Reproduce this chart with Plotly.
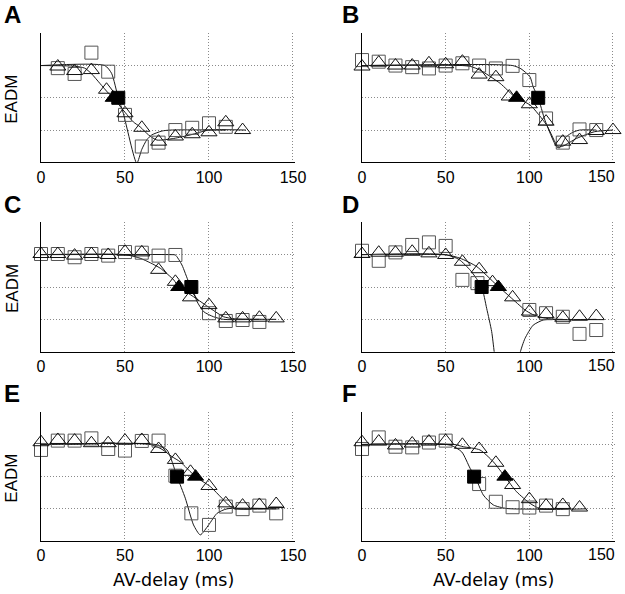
import plotly.graph_objects as go

# ---------------- data (EADM in grid units, AV-delay in ms) ----------------
A_sq_x = [10, 20, 30, 40, 50, 60, 70, 80, 90, 100, 110]
A_sq_y = [2.92, 2.74, 3.40, 2.81, 1.47, 0.49, 0.61, 1.00, 1.07, 1.21, 1.10]
A_tri_x = [10, 20, 30, 39, 50, 60, 70, 80, 90, 100, 110, 120]
A_tri_y = [2.97, 2.83, 2.86, 2.25, 1.52, 1.07, 0.64, 0.80, 0.87, 0.93, 1.24, 1.00]
A_sqf_x, A_sqf_y = [46], [2.0]
A_trif_x, A_trif_y = [43], [2.0]
A_sqc_x = [0, 38, 42, 46, 49, 57, 60, 63, 66, 72, 77, 110]
A_sqc_y = [3.0, 3.0, 2.76, 2.0, 1.52, -0.03, 0.4, 0.7, 0.85, 0.97, 1.0, 1.0]
A_tric_x = [0, 20, 26, 30, 35, 40, 43, 50, 55, 59, 64, 69, 79, 89, 100, 122]
A_tric_y = [3.0, 2.98, 2.92, 2.75, 2.45, 2.15, 2.0, 1.55, 1.25, 1.1, 0.85, 0.69, 0.74, 0.85, 1.0, 1.0]

B_sq_x = [0, 10, 20, 30, 40, 50, 60, 70, 80, 90, 100, 110, 120, 130, 140]
B_sq_y = [3.17, 3.12, 3.00, 2.95, 2.91, 3.00, 3.07, 3.00, 2.91, 2.99, 2.55, 1.36, 0.61, 1.02, 1.00]
B_tri_x = [0, 10, 20, 30, 40, 50, 60, 70, 80, 88, 100, 110, 120, 130, 140, 150]
B_tri_y = [2.97, 3.09, 3.00, 3.00, 3.07, 3.04, 3.12, 2.72, 2.64, 2.04, 1.80, 1.26, 0.64, 0.69, 0.97, 1.00]
B_sqf_x, B_sqf_y = [105.3], [2.0]
B_trif_x, B_trif_y = [92.4], [2.0]
B_sqc_x = [0, 90, 95, 100.4, 102.3, 105.3, 109.3, 116.3, 118, 122, 126, 130, 140]
B_sqc_y = [3.0, 3.0, 2.9, 2.65, 2.34, 2.0, 1.31, 0.48, 0.45, 0.79, 0.93, 1.0, 1.0]
B_tric_x = [0, 60, 65, 70.5, 82.5, 92, 100.4, 110.3, 117.2, 120, 128.2, 139.1, 150]
B_tric_y = [3.0, 3.0, 2.97, 2.86, 2.45, 2.0, 1.78, 1.16, 0.48, 0.5, 0.74, 0.95, 1.0]

C_sq_x = [0, 10, 20, 30, 40, 50, 60, 70, 80, 100, 110, 120, 130]
C_sq_y = [3.02, 3.02, 2.92, 3.02, 2.97, 3.08, 3.06, 2.97, 2.99, 1.19, 0.95, 0.98, 0.92]
C_tri_x = [0, 10, 20, 30, 40, 50, 60, 70, 80, 89, 100, 110, 120, 130, 140]
C_tri_y = [3.02, 3.02, 2.97, 3.02, 2.99, 3.09, 3.07, 2.53, 2.16, 1.68, 1.44, 1.03, 1.03, 1.05, 1.03]
C_sqf_x, C_sqf_y = [89.5], [2.0]
C_trif_x, C_trif_y = [82], [2.0]
C_sqc_x = [0, 78, 80, 83.9, 87.9, 89.9, 92.9, 96.8, 102.7, 108.7, 130]
C_sqc_y = [3.0, 3.0, 2.99, 2.68, 2.16, 2.0, 1.55, 1.24, 1.08, 1.0, 1.0]
C_tric_x = [0, 50, 59, 65, 71, 79, 82, 90.8, 100.8, 108.7, 115, 140]
C_tric_y = [3.0, 3.0, 2.89, 2.75, 2.58, 2.22, 2.0, 1.7, 1.34, 1.08, 1.02, 1.0]

D_sq_x = [0, 10, 20, 30, 40, 50, 60, 69, 100, 110, 120, 130, 140]
D_sq_y = [3.12, 2.81, 3.07, 3.30, 3.38, 3.27, 2.22, 2.12, 1.29, 1.19, 1.08, 0.55, 0.67]
D_tri_x = [0, 10, 20, 30, 40, 50, 60, 70, 78, 90, 100, 110, 120, 130, 140]
D_tri_y = [3.02, 3.06, 3.06, 3.09, 3.04, 2.99, 2.78, 2.55, 2.15, 1.68, 1.24, 1.16, 1.05, 1.08, 1.10]
D_sqf_x, D_sqf_y = [71.5], [2.0]
D_trif_x, D_trif_y = [81.5], [2.0]
D_sqc_x = [0, 50, 58, 65, 71.5, 74.5, 77.5, 79, 80, None, 93.5, 94.4, 97.4, 102.3, 108.3, 113, 120]
D_sqc_y = [3.0, 3.0, 2.85, 2.5, 2.0, 1.34, 0.62, 0.0, -0.4, None, -0.4, -0.05, 0.41, 0.82, 0.98, 1.0, 1.0]
D_tric_x = [0, 50.7, 58.6, 68.6, 80.5, 88.4, 97.4, 102, 108.3, 115, 140]
D_tric_y = [3.0, 2.99, 2.89, 2.63, 2.06, 1.70, 1.29, 1.15, 1.05, 1.0, 1.0]

E_sq_x = [0, 10, 20, 30, 40, 50, 60, 70, 80, 89.5, 100, 110, 120, 130, 140]
E_sq_y = [2.83, 3.12, 3.12, 3.19, 2.86, 2.81, 3.11, 3.12, 2.03, 0.86, 0.50, 1.07, 0.99, 1.10, 0.86]
E_tri_x = [0, 10, 20, 30, 40, 50, 60, 70, 80, 89, 100, 110, 120, 130, 140]
E_tri_y = [3.07, 3.14, 3.12, 3.04, 3.04, 3.12, 3.14, 2.86, 2.52, 2.15, 1.71, 1.17, 1.10, 1.12, 1.15]
E_sqf_x, E_sqf_y = [81], [2.0]
E_trif_x, E_trif_y = [92], [2.0]
E_sqc_x = [0, 68, 75, 81, 85.9, 90.8, 94.8, 99.8, 104.8, 110.7, 140]
E_sqc_y = [3.0, 3.0, 2.83, 2.0, 1.33, 0.5, 0.19, 0.5, 0.86, 1.0, 1.0]
E_tric_x = [0, 65, 72, 78, 82.9, 92, 100.8, 107.7, 112.7, 118, 142]
E_tric_y = [3.0, 3.0, 2.85, 2.62, 2.46, 2.0, 1.69, 1.33, 1.07, 1.0, 1.0]

F_sq_x = [0, 10, 20, 30, 40, 50, 70, 80, 90, 100, 110, 120]
F_sq_y = [2.86, 3.22, 2.93, 2.91, 3.06, 3.12, 1.77, 1.22, 1.05, 1.04, 1.10, 0.99]
F_tri_x = [0, 10, 20, 30, 40, 50, 60, 70, 80, 90, 100, 110, 120, 130]
F_tri_y = [3.07, 3.09, 2.97, 3.03, 3.09, 3.11, 2.99, 2.86, 2.43, 1.74, 1.30, 1.10, 1.12, 1.04]
F_sqf_x, F_sqf_y = [67], [2.0]
F_trif_x, F_trif_y = [85.4], [2.0]
F_sqc_x = [0, 52.7, 59.6, 64.6, 67.6, 72.5, 78.5, 86.5, 120]
F_sqc_y = [3.0, 2.98, 2.77, 2.26, 2.0, 1.43, 1.12, 1.01, 1.0]
F_tric_x = [0, 55, 60.6, 70.5, 78.5, 85.4, 92.4, 100.4, 106.3, 134]
F_tric_y = [3.0, 3.0, 2.93, 2.83, 2.46, 2.0, 1.53, 1.17, 1.01, 1.0]

x_ticks = [0, 50, 100, 150]
x_ticktext = ["0", "50", "100", "150"]
y_grid = [1, 2, 3]
panel_letters = ["A", "B", "C", "D", "E", "F"]
x_title = "AV-delay (ms)"
y_title = "EADM"

panels = {
    "A": (A_sq_x, A_sq_y, A_tri_x, A_tri_y, A_sqf_x, A_sqf_y, A_trif_x, A_trif_y, A_sqc_x, A_sqc_y, A_tric_x, A_tric_y),
    "B": (B_sq_x, B_sq_y, B_tri_x, B_tri_y, B_sqf_x, B_sqf_y, B_trif_x, B_trif_y, B_sqc_x, B_sqc_y, B_tric_x, B_tric_y),
    "C": (C_sq_x, C_sq_y, C_tri_x, C_tri_y, C_sqf_x, C_sqf_y, C_trif_x, C_trif_y, C_sqc_x, C_sqc_y, C_tric_x, C_tric_y),
    "D": (D_sq_x, D_sq_y, D_tri_x, D_tri_y, D_sqf_x, D_sqf_y, D_trif_x, D_trif_y, D_sqc_x, D_sqc_y, D_tric_x, D_tric_y),
    "E": (E_sq_x, E_sq_y, E_tri_x, E_tri_y, E_sqf_x, E_sqf_y, E_trif_x, E_trif_y, E_sqc_x, E_sqc_y, E_tric_x, E_tric_y),
    "F": (F_sq_x, F_sq_y, F_tri_x, F_tri_y, F_sqf_x, F_sqf_y, F_trif_x, F_trif_y, F_sqc_x, F_sqc_y, F_tric_x, F_tric_y),
}

# ---------------- layout geometry (pixels) ----------------
W, H = 625, 594
X_MAX = 151.2          # 2 px beyond 150 so the 150 grid line is drawn
col_px = [(41, 295), (362, 615)]
row_px = [(33.3, 162.3), (222.3, 351.7), (412.3, 541)]
letter_cy = [14, 204, 393.5]
FONT = "Liberation Sans, Arial, sans-serif"
TICKFONT = dict(size=16, family=FONT, color="black")
GRID = dict(showgrid=True, gridcolor="#8a8a8a", gridwidth=1, griddash="1px,2px")

fig = go.Figure()
layout = dict(
    width=W, height=H, margin=dict(l=0, r=0, t=0, b=0),
    paper_bgcolor="white", plot_bgcolor="white", showlegend=False,
    font=dict(family=FONT, color="black"),
)
annotations = []

for i, letter in enumerate(panel_letters):
    r, c = divmod(i, 2)
    n = i + 1
    xa = "x" if n == 1 else f"x{n}"
    ya = "y" if n == 1 else f"y{n}"
    (sq_x, sq_y, tri_x, tri_y, sqf_x, sqf_y, trif_x, trif_y,
     sqc_x, sqc_y, tric_x, tric_y) = panels[letter]

    line_style = dict(color="#1a1a1a", width=1, shape="spline", smoothing=0.6)
    fig.add_trace(go.Scatter(x=sqc_x, y=sqc_y, mode="lines", line=line_style,
                             connectgaps=False, xaxis=xa, yaxis=ya, hoverinfo="skip"))
    fig.add_trace(go.Scatter(x=tric_x, y=tric_y, mode="lines", line=line_style,
                             xaxis=xa, yaxis=ya, hoverinfo="skip"))
    fig.add_trace(go.Scatter(x=sq_x, y=sq_y, mode="markers", cliponaxis=False,
                             marker=dict(symbol="square-open", size=13, color="#555555",
                                         line=dict(width=1, color="#555555")),
                             xaxis=xa, yaxis=ya))
    fig.add_trace(go.Scatter(x=tri_x, y=tri_y, mode="markers", cliponaxis=False,
                             marker=dict(symbol="triangle-up-open", size=14, color="#111111",
                                         line=dict(width=1, color="#111111")),
                             xaxis=xa, yaxis=ya))
    fig.add_trace(go.Scatter(x=sqf_x, y=sqf_y, mode="markers", cliponaxis=False,
                             marker=dict(symbol="square", size=13, color="black",
                                         line=dict(width=1, color="black")),
                             xaxis=xa, yaxis=ya))
    fig.add_trace(go.Scatter(x=trif_x, y=trif_y, mode="markers", cliponaxis=False,
                             marker=dict(symbol="triangle-up", size=14, color="black",
                                         line=dict(width=1, color="black")),
                             xaxis=xa, yaxis=ya))

    x0, x1 = col_px[c]
    top, bot = row_px[r]
    xkey = "xaxis" if n == 1 else f"xaxis{n}"
    ykey = "yaxis" if n == 1 else f"yaxis{n}"
    ttext = list(x_ticktext)
    if c == 1:
        ttext[-1] = ""   # placed as an annotation, pulled inside the page as in the reference
    layout[xkey] = dict(
        domain=[x0 / W, x1 / W], anchor=ya, range=[0, X_MAX],
        tickvals=x_ticks, ticktext=ttext, ticks="", ticklen=0,
        tickfont=TICKFONT, ticklabeloverflow="allow",
        showline=True, linecolor="black", linewidth=1, zeroline=False,
        fixedrange=True, automargin=False, **GRID,
    )
    layout[ykey] = dict(
        domain=[1 - bot / H, 1 - top / H], anchor=xa, range=[0, 4],
        tickvals=y_grid, showticklabels=False, ticks="",
        showline=True, linecolor="black", linewidth=1, zeroline=False,
        fixedrange=True, automargin=False, **GRID,
    )

    if c == 1:
        annotations.append(dict(
            text=x_ticktext[-1], xref="paper", yref="paper",
            x=601.7 / W, y=1 - (bot + 13.7) / H,
            xanchor="center", yanchor="middle", showarrow=False, font=TICKFONT,
        ))

    # panel letter
    annotations.append(dict(
        text=f"<b>{letter}</b>", xref="paper", yref="paper",
        x=(2 if c == 0 else 340) / W, y=1 - letter_cy[r] / H,
        xanchor="left", yanchor="middle", showarrow=False,
        font=dict(size=24, family=FONT, color="black"),
    ))
    # y title on left column
    if c == 0:
        annotations.append(dict(
            text=y_title, xref="paper", yref="paper",
            x=12 / W, y=1 - ((top + bot) / 2 + 1) / H,
            xanchor="center", yanchor="middle", textangle=-90, showarrow=False,
            font=dict(size=17, family=FONT, color="black"),
        ))

for c in range(2):
    x0, x1 = col_px[c]
    annotations.append(dict(
        text=x_title, xref="paper", yref="paper",
        x=((x0 + x1) / 2 + 5) / W, y=1 - 580 / H,
        xanchor="center", yanchor="middle", showarrow=False,
        font=dict(size=17.5, family="DejaVu Sans, sans-serif", color="black"),
    ))

layout["annotations"] = annotations
fig.update_layout(**layout)
fig.write_html("out.html", config={"displayModeBar": False},
               post_script="document.body.style.margin='0px';")
